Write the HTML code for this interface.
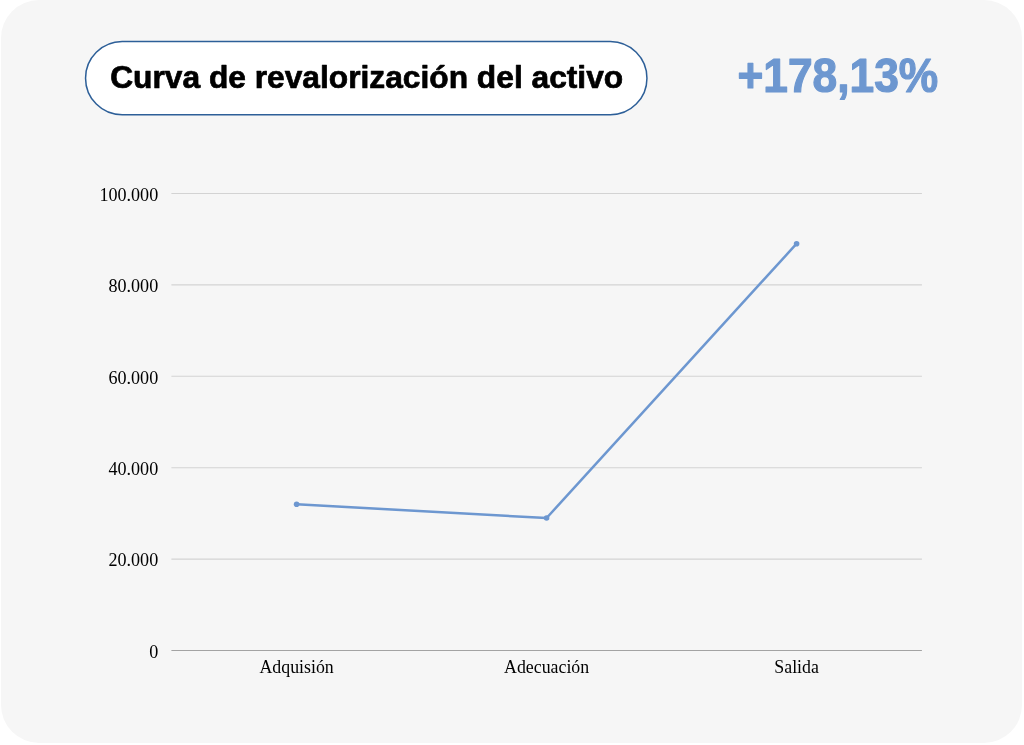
<!DOCTYPE html>
<html lang="es">
<head>
<meta charset="utf-8">
<title>Curva de revalorización del activo</title>
<style>
  html, body { margin: 0; padding: 0; background: #ffffff; }
  body { width: 1024px; height: 745px; overflow: hidden; position: relative; }
  .card {
    position: absolute; left: 1px; top: 0; width: 1020.5px; height: 742.5px;
    background: #f6f6f6; border-radius: 38px;
  }
  svg { position: absolute; left: 0; top: 0; }
  .title { font-family: "Liberation Sans", sans-serif; font-weight: 700; font-size: 31px; fill: #000; stroke: #000; stroke-width: 0.7px; stroke-linejoin: round; }
  .pct { font-family: "Liberation Sans", sans-serif; font-weight: 700; font-size: 48.6px; fill: #6d97d0; stroke: #6d97d0; stroke-width: 1.2px; stroke-linejoin: round; }
  .ay { font-size: 18.1px !important; }
  .ax { font-family: "Liberation Serif", serif; font-size: 17.85px; fill: #000; }
</style>
</head>
<body>
<div class="card"></div>
<svg width="1024" height="745" viewBox="0 0 1024 745">
  <!-- heading -->
  <rect x="85.55" y="41.5" width="561.4" height="73.3" rx="36.65" ry="36.65" fill="#ffffff" stroke="#2d5f98" stroke-width="1.5"/>
  <text class="title" x="110.2" y="87.5" textLength="513" lengthAdjust="spacingAndGlyphs">Curva de revalorización del activo</text>
  <text class="pct" x="737.4" y="92.2" textLength="200.8" lengthAdjust="spacingAndGlyphs">+178,13%</text>

  <!-- gridlines -->
  <g stroke="#d3d3d3" stroke-width="1.1" shape-rendering="auto">
    <line x1="171.4" y1="193.5" x2="921.9" y2="193.5"/>
    <line x1="171.4" y1="284.9" x2="921.9" y2="284.9"/>
    <line x1="171.4" y1="376.3" x2="921.9" y2="376.3"/>
    <line x1="171.4" y1="467.7" x2="921.9" y2="467.7"/>
    <line x1="171.4" y1="559.1" x2="921.9" y2="559.1"/>
  </g>
  <line x1="171.4" y1="650.5" x2="921.9" y2="650.5" stroke="#a3a3a3" stroke-width="1.2"/>

  <!-- y labels -->
  <g class="ax ay" text-anchor="end">
    <text transform="translate(158.2 200.8) scale(1 1.02)">100.000</text>
    <text transform="translate(158.2 292.2) scale(1 1.02)">80.000</text>
    <text transform="translate(158.2 383.6) scale(1 1.02)">60.000</text>
    <text transform="translate(158.2 475.0) scale(1 1.02)">40.000</text>
    <text transform="translate(158.2 566.4) scale(1 1.02)">20.000</text>
    <text transform="translate(158.2 657.8) scale(1 1.02)">0</text>
  </g>

  <!-- x labels -->
  <g class="ax" text-anchor="middle">
    <text transform="translate(296.6 672.8) scale(1 1.015)">Adquisión</text>
    <text transform="translate(546.6 672.8) scale(1 1.015)">Adecuación</text>
    <text transform="translate(796.6 672.8) scale(1 1.015)">Salida</text>
  </g>

  <!-- series -->
  <polyline points="296.6,504.3 546.6,518.0 796.6,243.7" fill="none" stroke="#6d97d0" stroke-width="2.5" stroke-linejoin="round" stroke-linecap="round"/>
  <g fill="#6d97d0">
    <circle cx="296.6" cy="504.3" r="2.8"/>
    <circle cx="546.6" cy="518.0" r="2.8"/>
    <circle cx="796.6" cy="243.7" r="2.8"/>
  </g>
</svg>
</body>
</html>
